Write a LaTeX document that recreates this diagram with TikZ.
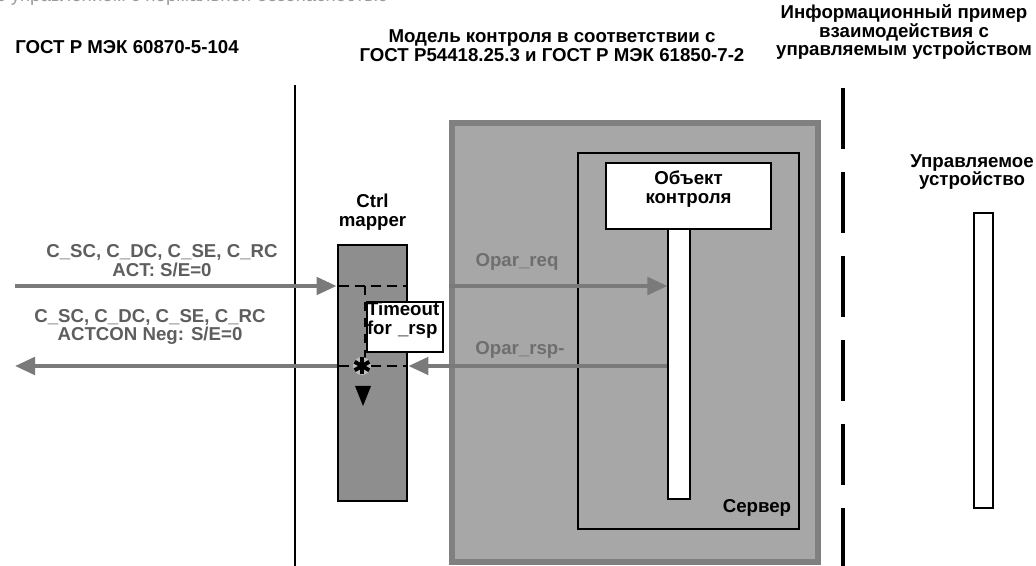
\documentclass[tikz,border=0pt]{standalone}
\usepackage{fontspec}
\setmainfont{Liberation Sans}
\usetikzlibrary{arrows.meta,positioning,fit,calc}
\definecolor{msggray}{HTML}{7A7A7A}
\definecolor{lblgray}{HTML}{5E5E5E}
\definecolor{oplblgray}{HTML}{6E6E6E}
\definecolor{capgray}{HTML}{9A9A9A}
\definecolor{srvfill}{HTML}{A7A7A7}
\definecolor{srvborder}{HTML}{808080}
\definecolor{mapfill}{HTML}{8E8E8E}
\tikzset{>={Triangle[length=15pt,width=13pt]}}
\tikzset{
  every node/.style={font=\fontsize{14}{14}\selectfont\bfseries},
  heading/.style={align=center, inner sep=0pt},
  msglbl/.style={align=center, text=lblgray, inner sep=0pt},
  oplbl/.style={text=oplblgray, inner sep=0pt},
  msg/.style={draw=msggray, line width=3pt},
  tick/.style={line width=1.8pt, dash pattern=on 7pt off 5pt},
  frame/.style={draw, inner sep=0pt},
}

\begin{document}
\begin{tikzpicture}[x=0.75pt,y=-0.75pt]
  \useasboundingbox (0,0) rectangle (1036,566);
  % caption line cut by the page
  \node[anchor=base west, text=capgray, inner sep=0pt,
    font=\fontsize{14}{15}\selectfont] (cap) at (-4,2) {с управлением с нормальной безопасностью};
  % headings
  \node[heading] (hIEC) at (127,47) {ГОСТ Р МЭК 60870-5-104};
  \node[heading] (hModel) at (552,46) {Модель контроля в соответствии с\\ГОСТ Р54418.25.3 и ГОСТ Р МЭК 61850-7-2};
  \node[heading] (hInfo) at (904,32) {Информационный пример\\взаимодействия с\\управляемым устройством};
  % borders between the domains
  \draw[line width=2pt] (295,85) -- (295,566);
  \draw[line width=2.4pt, dash pattern=on 46pt off 17pt] (843,88) -- (843,566);
  % server
  \node[frame, fit={(452,123) (818,562)}, draw=srvborder, fill=srvfill, line width=4.5pt] (server) {};
  \node[frame, fit={(578,153) (799,529)}, line width=1pt] (inner) {};
  \node (srvlbl) at (757,508) {Сервер};
  \node[frame, fit={(606,163) (771,229)}, fill=white, line width=1.2pt, align=center] (obj) {Объект\\контроля};
  \node[frame, fit={(668,229) (690,499)}, fill=white, line width=0.8pt] (objline) {};
  % mapper
  \node[frame, fit={(338,245) (407,501)}, fill=mapfill, line width=2.2pt] (mapper) {};
  \node[above=10pt of mapper, align=center, inner sep=0pt] (mlbl) {Ctrl\\mapper};
  \coordinate (actin) at (15,286);
  \coordinate (actout) at (15,366);
  \coordinate (tmr) at (365,286);
  % messages
  \draw[msg,->] (actin) -- (actin -| mapper.west);
  \draw[msg,->] (mapper.west |- actout) -- (actout);
  \draw[msg,->] (server.west |- actin) -- (actin -| objline.west);
  \draw[msg,->] (objline.west |- actout) -- (actout -| mapper.east);
  \node[msglbl] (lact) at (162,261) {C\_SC, C\_DC, C\_SE, C\_RC\\ACT: S/E=0};
  \node[msglbl] (lneg) at (150,327) {C\_SC, C\_DC, C\_SE, C\_RC\\ACTCON Neg: S/E=0};
  \node[oplbl] (lreq) at (517,262) {Opar\_req};
  \node[oplbl] (lrsp) at (520,350) {Opar\_rsp-};
  % timer inside the mapper
  \draw[tick] ([xshift=2pt]mapper.west |- actin) -- ([xshift=-2pt]mapper.east |- actin);
  \draw[tick] ([xshift=2pt]mapper.west |- actout) -- ([xshift=-2pt]mapper.east |- actout);
  \draw[tick] (tmr) -- (tmr |- actout);
  \node[frame, fit={(367,302) (443,352)}, fill=white, line width=1pt, align=left] (timeout) {Timeout\\for \_rsp};
  \coordinate (stop) at (362,366);
  \fill[white!40!mapfill] (stop) circle (9);
  \foreach \a in {90,30,150}
    \draw[line width=3pt] ($(stop)+(\a:8.5)$) -- ($(stop)+(\a+180:8.5)$);
  \fill[shift={(363,396)}] (-8,-10) -- (8,-10) -- (0,10) -- cycle;
  % controlled device
  \node[align=center, inner sep=0pt] (devlbl) at (972,172) {Управляемое\\устройство};
  \node[frame, fit={(974,213) (993,508)}, line width=0.8pt] (dev) {};
\end{tikzpicture}
\end{document}
